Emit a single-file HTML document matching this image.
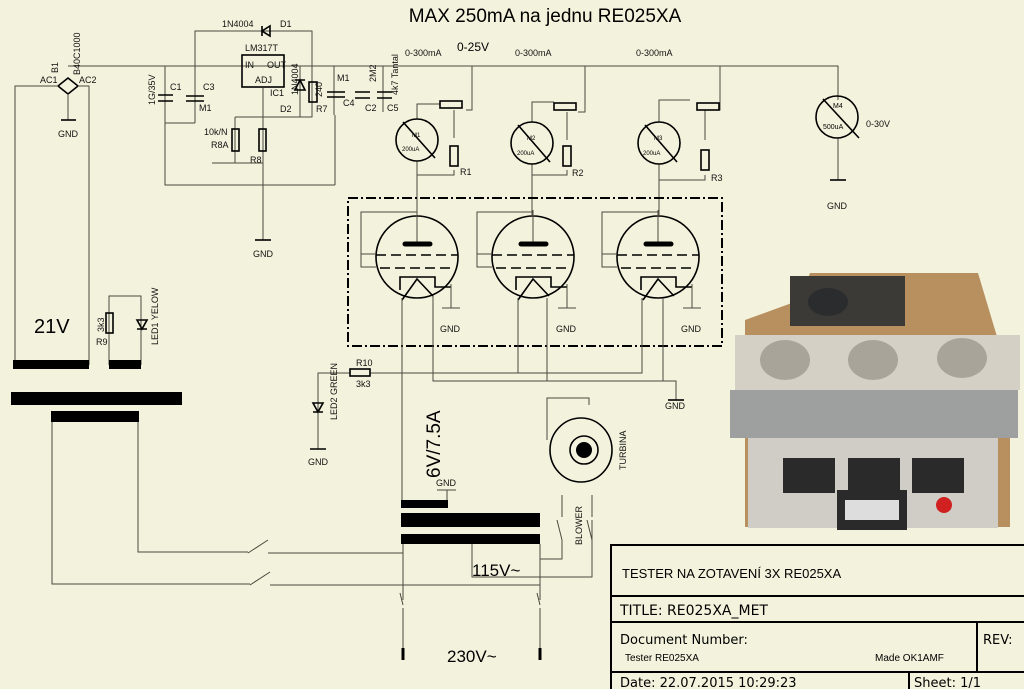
<!DOCTYPE html>
<html><head><meta charset="utf-8"><style>
body{margin:0;background:#f3f3dd;}
svg{display:block;font-family:"Liberation Sans",sans-serif;}
.w{stroke:#4a4a40;stroke-width:1;fill:none}
.k{stroke:#000;stroke-width:1.6;fill:none}
.t{font-size:9px;fill:#111}
</style></head><body>
<svg width="1024" height="689" viewBox="0 0 1024 689">
<rect width="1024" height="689" fill="#f3f3dd"/>
<text x="545" y="22" font-size="19" text-anchor="middle">MAX 250mA na jednu RE025XA</text>
<text x="457" y="51" font-size="12">0-25V</text>
<text x="405" y="56" class="t">0-300mA</text>
<text x="515" y="56" class="t">0-300mA</text>
<text x="636" y="56" class="t">0-300mA</text>
<!-- top rail -->
<path class="w" d="M68 66H838V100M195 66V31H312V66M165 66V123M195 66V123M165 123H195M334 66V115M383 66V112M263 88V185M335 115V185M165 123V185H335M235 117H312V88M235 117V163H263M212 163H235"/>
<path class="k" d="M262 26V36M262 31L270 26V36Z"/>
<text x="222" y="27" class="t">1N4004</text><text x="280" y="27" class="t">D1</text>
<rect x="242" y="55" width="42" height="32" class="k" fill="#f3f3dd"/>
<text x="245" y="51" class="t">LM317T</text><text x="245" y="68" class="t">IN</text><text x="267" y="68" class="t">OUT</text><text x="255" y="83" class="t">ADJ</text>
<text x="270" y="96" class="t">IC1</text><text x="280" y="112" class="t">D2</text><text x="316" y="112" class="t">R7</text>
<path class="k" d="M158 95H173M158 101H173M186 96H204M186 101H204M327 92H345M327 97H345M355 92H370M355 98H370M377 92H392M377 98H392"/>
<path class="w" d="M300 66V117M312 66V88"/>
<rect x="309" y="82" width="8" height="20" class="k"/>
<path class="k" d="M295 90H305L300 80Z M295 80H305"/>
<text x="170" y="90" class="t">C1</text><text x="203" y="90" class="t">C3</text><text x="199" y="111" class="t">M1</text>
<text x="337" y="81" class="t">M1</text><text x="343" y="106" class="t">C4</text><text x="365" y="111" class="t">C2</text><text x="387" y="111" class="t">C5</text>
<text class="t" transform="translate(155,105) rotate(-90)">1G/35V</text>
<text class="t" transform="translate(298,95) rotate(-90)">1N4004</text>
<text class="t" transform="translate(322,97) rotate(-90)">240</text>
<text class="t" transform="translate(376,82) rotate(-90)">2M2</text>
<text class="t" transform="translate(398,95) rotate(-90)">4k7 Tantal</text>
<rect x="232" y="129" width="7" height="22" class="k"/><rect x="259" y="129" width="7" height="22" class="k"/>
<text x="204" y="135" class="t">10k/N</text><text x="211" y="148" class="t">R8A</text><text x="250" y="163" class="t">R8</text>
<path class="w" d="M263 185V240"/><path class="k" d="M255 240H271"/>
<text x="253" y="257" class="t">GND</text>
<!-- bridge -->
<path class="k" d="M68 78L78 86L68 94L58 86Z"/>
<path class="w" d="M68 94V120M58 86H15V365M78 86H89V365"/><path class="k" d="M61 120H76"/>
<text x="58" y="137" class="t">GND</text>
<text x="40" y="83" class="t">AC1</text><text x="79" y="83" class="t">AC2</text>
<text class="t" transform="translate(58,73) rotate(-90)">B1</text>
<text class="t" transform="translate(80,75) rotate(-90)">B40C1000</text>
<text x="34" y="333" font-size="20">21V</text>
<rect x="13" y="360" width="76" height="9" fill="#000"/>
<path class="w" d="M109 365V296H141V365"/><rect x="109" y="360" width="32" height="9" fill="#000"/>
<rect x="106" y="313" width="7" height="20" class="k"/>
<text class="t" transform="translate(104,332) rotate(-90)">3k3</text><text x="96" y="345" class="t">R9</text>
<path class="k" d="M137 320H147L142 329Z M137 329H147"/>
<text class="t" transform="translate(158,345) rotate(-90)">LED1 YELOW</text>
<rect x="11" y="392" width="171" height="13" fill="#000"/>
<rect x="51" y="411" width="88" height="11" fill="#000"/>
<path class="w" d="M52 422V584H250M138 422V552H248M268 553H403M270 585H540M248 553L268 540M250 585L270 572"/>
<!-- meters -->
<g class="w">
<path d="M472 66V110H466M417 119V104H440M454 110V138M417 161V175H454V170M417 175V215"/>
<path d="M585 66V112H578M532 122V102H554M567 112V140M532 164V175H567V170M532 175V215"/>
<path d="M720 66V110H714M659 122V100H690M705 110V140M659 164V180H705V175M659 180V215"/>
<path d="M838 138V180"/>
</g>
<rect x="440" y="101" width="22" height="7" class="k"/><rect x="450" y="146" width="8" height="20" class="k"/>
<rect x="554" y="103" width="22" height="7" class="k"/><rect x="563" y="146" width="8" height="20" class="k"/>
<rect x="697" y="103" width="22" height="7" class="k"/><rect x="701" y="150" width="8" height="20" class="k"/>
<g class="k"><circle cx="417" cy="140" r="21"/><circle cx="532" cy="143" r="21"/><circle cx="659" cy="143" r="21"/><circle cx="837" cy="117" r="21"/>
<path d="M403 122L435 158M518 125L550 162M645 125L677 162M823 99L859 138"/><path d="M830 180H846"/></g>
<text x="412" y="137" font-size="6">M1</text><text x="402" y="151" font-size="6">200uA</text>
<text x="527" y="140" font-size="6">M2</text><text x="517" y="155" font-size="6">200uA</text>
<text x="654" y="140" font-size="6">M3</text><text x="643" y="155" font-size="6">200uA</text>
<text x="833" y="108" font-size="7">M4</text><text x="823" y="129" font-size="7">500uA</text>
<text x="866" y="127" class="t">0-30V</text><text x="827" y="209" class="t">GND</text>
<text x="460" y="175" class="t">R1</text><text x="572" y="176" class="t">R2</text><text x="711" y="181" class="t">R3</text>
<!-- tube box -->
<rect x="348" y="198" width="374" height="148" fill="none" stroke="#000" stroke-width="2" stroke-dasharray="10 3 2 3"/>
<g id="tube">
<circle cx="417" cy="257" r="41" class="k"/>
<path class="w" d="M417 210V244M417 212H361V267H376M361 254H376"/>
<path d="M405 244H430" stroke="#000" stroke-width="5" stroke-linecap="round"/>
<path class="k" d="M376 255H458" stroke-dasharray="10 5"/>
<path class="k" d="M380 268H451" stroke-dasharray="10 5"/>
<path class="k" d="M400 290V277H435V287H451M402 300L417 279L433 296"/>
<path class="w" d="M451 284V308M442 308H460"/>
<text x="440" y="332" class="t">GND</text>
</g>
<use href="#tube" x="116"/><use href="#tube" x="241"/>
<path class="w" d="M402 298V500M433 296V381H676V400M402 373H642V298M518 298V373M547 298V381M663 298V381"/>
<path class="k" d="M668 400H684"/><text x="665" y="409" class="t">GND</text>
<path class="w" d="M402 373H370M350 373H318V449"/><rect x="350" y="369" width="20" height="7" class="k"/>
<text x="356" y="366" class="t">R10</text><text x="356" y="387" class="t">3k3</text>
<path class="k" d="M313 403H323L318 412Z M313 412H323M310 449H326"/>
<text class="t" transform="translate(337,420) rotate(-90)">LED2 GREEN</text>
<text x="308" y="465" class="t">GND</text>
<text font-size="19" transform="translate(440,478) rotate(-90)">6V/7.5A</text>
<path class="w" d="M447 490V500M437 490H456"/><text x="436" y="486" class="t">GND</text>
<rect x="401" y="500" width="47" height="8" fill="#000"/>
<rect x="401" y="513" width="139" height="14" fill="#000"/>
<rect x="401" y="534" width="139" height="10" fill="#000"/>
<path class="w" d="M403 544V600M540 544V600M403 608V652M540 608V652M472 544V577H592V520M540 559H562V540M400 593L403 605M537 593L540 605M562 540L557 520M592 540L587 520M562 517V495M592 517V495"/>
<text x="472" y="576" font-size="17">115V~</text>
<text x="447" y="662" font-size="17">230V~</text>
<path d="M403 648V660M540 648V660" stroke="#000" stroke-width="3"/>
<path class="w" d="M547 440V398H589V405"/>
<ellipse cx="581" cy="450" rx="31" ry="32" class="k"/><circle cx="584" cy="450" r="14" class="k"/><circle cx="584" cy="450" r="8" fill="#000"/>
<text class="t" transform="translate(582,545) rotate(-90)">BLOWER</text>
<text class="t" transform="translate(626,470) rotate(-90)">TURBINA</text>
<!-- photo -->
<g>
<path d="M745 320L800 300L810 273H978L1010 380L1010 527H745Z" fill="#b89060"/>
<rect x="790" y="276" width="115" height="50" fill="#3c3a36"/>
<ellipse cx="828" cy="302" rx="20" ry="14" fill="#2a2c2e"/>
<rect x="735" y="335" width="285" height="55" fill="#d4d0c6"/>
<ellipse cx="785" cy="360" rx="25" ry="20" fill="#a8a49a"/><ellipse cx="873" cy="360" rx="25" ry="20" fill="#a8a49a"/><ellipse cx="962" cy="358" rx="25" ry="20" fill="#a8a49a"/>
<rect x="730" y="390" width="288" height="48" fill="#9ea0a0"/>
<rect x="748" y="438" width="250" height="90" fill="#cfcdc6"/>
<rect x="783" y="458" width="52" height="35" fill="#2a2a2a"/><rect x="848" y="458" width="52" height="35" fill="#2a2a2a"/><rect x="912" y="458" width="52" height="35" fill="#2a2a2a"/>
<rect x="837" y="490" width="70" height="40" fill="#2a2a2a"/>
<rect x="845" y="500" width="54" height="20" fill="#ddd"/>
<circle cx="944" cy="505" r="8" fill="#d02020"/>
</g>
<g stroke="#000" stroke-width="2" fill="none">
<path d="M611 689V545H1024M611 596H1024M611 622H1024M611 672H1024M977 622V672M909 672V689"/>
</g>
<text x="622" y="578" font-size="13">TESTER NA ZOTAVENÍ 3X RE025XA</text>
<text x="620" y="615" font-family="DejaVu Sans" font-size="14">TITLE:  RE025XA_MET</text>
<text x="620" y="644" font-family="DejaVu Sans" font-size="13">Document Number:</text>
<text x="625" y="661" font-size="10">Tester RE025XA</text>
<text x="875" y="661" font-size="10">Made OK1AMF</text>
<text x="983" y="644" font-family="DejaVu Sans" font-size="13">REV:</text>
<text x="620" y="687" font-family="DejaVu Sans" font-size="13">Date: 22.07.2015 10:29:23</text>
<text x="914" y="687" font-family="DejaVu Sans" font-size="13">Sheet: 1/1</text>
</svg>
</body></html>
